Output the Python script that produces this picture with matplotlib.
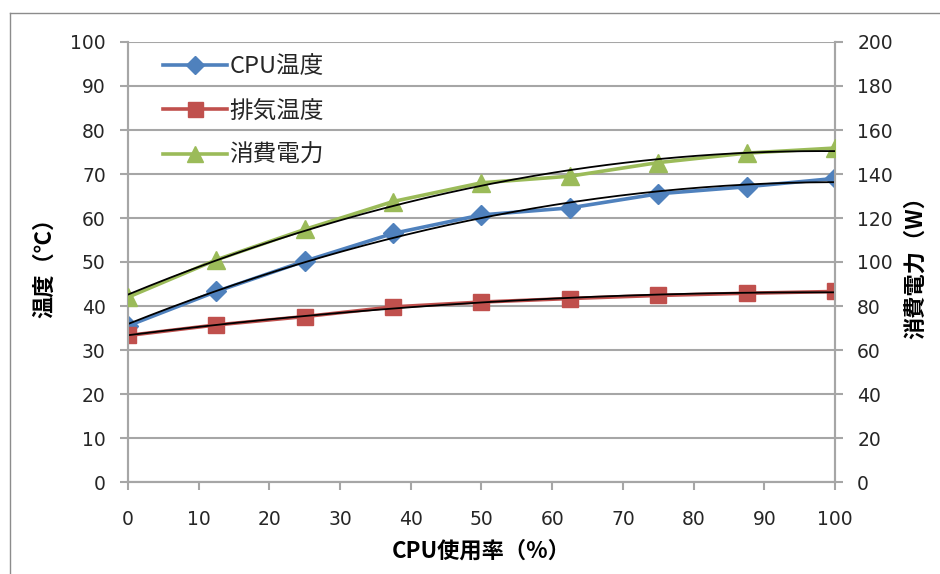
import matplotlib
matplotlib.use('Agg')
import matplotlib.pyplot as plt
from matplotlib.lines import Line2D
import numpy as np

plt.rcParams['font.family'] = ['Noto Sans CJK JP', 'DejaVu Sans']

usage = [0, 12.5, 25, 37.5, 50, 62.5, 75, 87.5, 100]
cpu_temp = [35.5, 43.3, 50.2, 56.5, 60.7, 62.3, 65.5, 67.1, 69.0]
exhaust_temp = [33.3, 35.7, 37.6, 39.8, 40.9, 41.7, 42.4, 42.9, 43.3]
power = [84.0, 101.0, 114.8, 127.5, 136.0, 139.0, 145.2, 149.5, 151.8]

blue = '#4F81BD'
red = '#C0504D'
green = '#9BBB59'
grid_c = '#a6a6a6'
text_c = '#262626'

fig = plt.figure(figsize=(9.4, 5.74), dpi=100)
ax = fig.add_axes([128/940, 1-482/574, (835-128)/940, (482-42)/574])
ay = ax.twinx()

# chart frame (top and left edges visible)
fig.add_artist(Line2D([10/940, 10/940], [0, 1-13/574], transform=fig.transFigure, color='#8c8c8c', lw=1))
fig.add_artist(Line2D([10/940, 1], [1-13/574, 1-13/574], transform=fig.transFigure, color='#8c8c8c', lw=1))

l1, = ax.plot(usage, cpu_temp, color=blue, lw=2.6, marker='D', ms=10, label='CPU温度', zorder=3)
l2, = ax.plot(usage, exhaust_temp, color=red, lw=2.6, marker='s', ms=12, label='排気温度', zorder=3)
l3, = ay.plot(usage, power, color=green, lw=2.6, marker='^', ms=13, label='消費電力', zorder=3)

# second order trend lines
xs = np.linspace(0, 100, 200)
for a, ys in ((ax, cpu_temp), (ax, exhaust_temp), (ay, power)):
    c = np.polyfit(usage, ys, 2)
    a.plot(xs, np.polyval(c, xs), color='black', lw=1.3, zorder=4)

ax.set_xlim(0, 100)
ax.set_ylim(0, 100)
ay.set_ylim(0, 200)
ax.set_xticks(np.arange(0, 101, 10))
ax.set_yticks(np.arange(0, 101, 10))
ay.set_yticks(np.arange(0, 201, 20))
ax.yaxis.grid(True, color=grid_c, lw=1.5)
ax.set_axisbelow(True)

for a in (ax, ay):
    a.spines['top'].set_visible(False)
    for s in ('left', 'right', 'bottom'):
        a.spines[s].set_color(grid_c)
        a.spines[s].set_linewidth(1.5)
    a.tick_params(direction='out', length=6, width=1.5, color=grid_c,
                  labelsize=13.5, labelcolor=text_c, pad=10)
    for t in a.get_xticklabels() + a.get_yticklabels():
        t.set_fontfamily('DejaVu Sans')
ax.tick_params(axis='x', pad=14)

ax.set_xlabel('CPU使用率（%）', fontsize=16, fontweight='bold', labelpad=8)
ax.set_ylabel('温度（℃）', fontsize=16, fontweight='bold', labelpad=10)
ay.set_ylabel('消費電力（W）', fontsize=16, fontweight='bold', labelpad=8)

leg = ay.legend(handles=[l1, l2, l3], loc='upper left', bbox_to_anchor=(0.02, 1.018),
                frameon=False, fontsize=17, handlelength=2.7, handletextpad=0.1,
                labelspacing=0.9, labelcolor=text_c, markerscale=0.9)

fig.savefig('out.png', dpi=100)
